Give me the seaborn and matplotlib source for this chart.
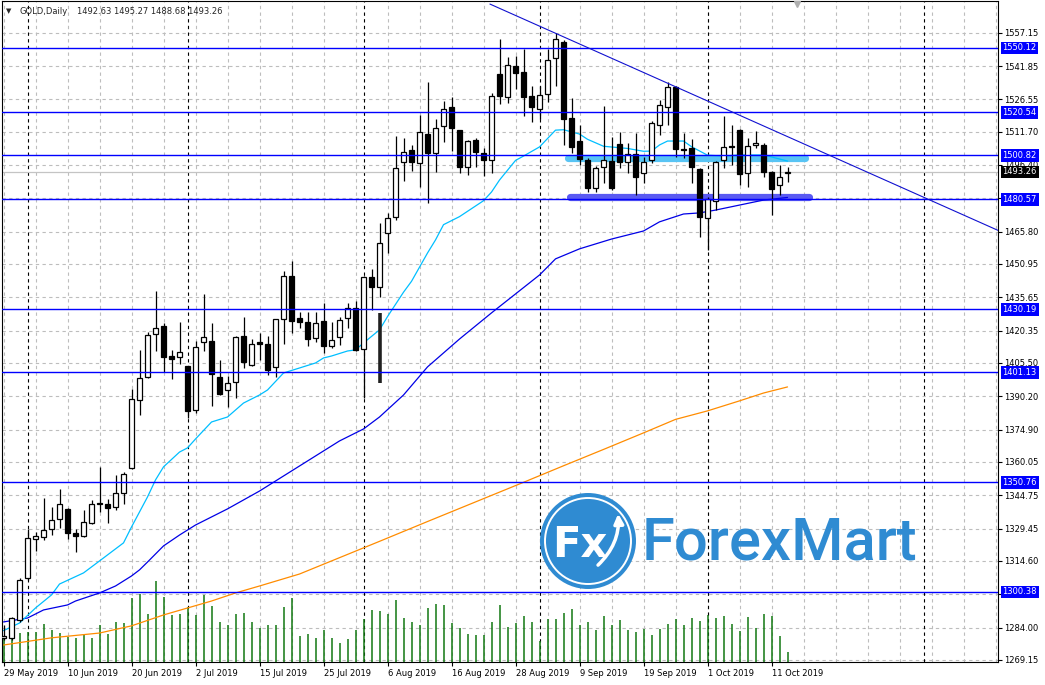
import matplotlib
matplotlib.use("Agg")
import matplotlib.pyplot as plt
import matplotlib.patches as mpatches
import numpy as np
import seaborn as sns

sns.set_style("white")
plt.rcParams["font.family"] = ["DejaVu Sans"]

# GOLD daily bars, 29 May 2019 .. 15 Oct 2019 (one bar per trading day)
opens = [1279.2, 1279.1, 1287.5, 1306.7, 1324.6, 1325.5, 1329.2, 1333.7, 1338.3, 1327.3,
         1326.2, 1332.2, 1341.4, 1340.8, 1339.3, 1345.7, 1357.2, 1388.5, 1398.9, 1418.8,
         1422.5, 1408.7, 1408.1, 1404.1, 1383.9, 1415.3, 1415.6, 1399.1, 1393.0, 1396.6,
         1417.9, 1404.4, 1415.2, 1414.2, 1403.8, 1425.6, 1445.5, 1426.2, 1424.3, 1416.8,
         1424.7, 1413.4, 1417.3, 1426.0, 1430.6, 1411.8, 1444.9, 1440.3, 1465.1, 1472.7,
         1497.7, 1503.3, 1497.2, 1510.5, 1501.8, 1514.3, 1522.9, 1512.5, 1495.3, 1507.9,
         1501.8, 1498.7, 1538.2, 1527.5, 1541.9, 1539.0, 1528.1, 1522.0, 1528.9, 1545.4,
         1552.9, 1517.8, 1507.4, 1498.7, 1485.7, 1495.6, 1498.2, 1505.9, 1497.9, 1501.3,
         1492.6, 1498.7, 1514.8, 1522.9, 1532.1, 1503.9, 1504.1, 1494.4, 1471.9, 1479.9,
         1498.7, 1505.1, 1512.5, 1492.6, 1505.5, 1505.6, 1493.0, 1487.2, 1492.63]
highs = [1285.2, 1289.0, 1306.7, 1329.2, 1328.1, 1343.4, 1339.3, 1347.7, 1338.9, 1329.2,
         1338.0, 1342.6, 1357.6, 1343.1, 1354.1, 1355.3, 1393.4, 1411.5, 1419.9, 1438.5,
         1424.0, 1411.5, 1424.5, 1404.1, 1415.6, 1437.2, 1423.7, 1406.9, 1399.7, 1417.9,
         1426.5, 1416.4, 1419.1, 1417.9, 1425.7, 1447.7, 1452.3, 1429.1, 1429.1, 1428.8,
         1433.2, 1424.2, 1426.8, 1432.9, 1434.1, 1445.5, 1448.5, 1469.6, 1474.2, 1509.7,
         1508.7, 1505.6, 1519.4, 1534.4, 1517.4, 1525.9, 1527.5, 1512.5, 1507.9, 1508.7,
         1504.1, 1529.6, 1554.1, 1546.1, 1546.4, 1549.5, 1532.7, 1532.7, 1549.5, 1556.9,
         1553.8, 1527.0, 1514.8, 1499.6, 1495.9, 1523.5, 1509.4, 1511.7, 1506.4, 1510.9,
         1500.2, 1516.6, 1526.3, 1534.7, 1532.7, 1511.2, 1508.2, 1495.0, 1481.7, 1498.2,
         1518.9, 1514.8, 1512.9, 1508.9, 1512.0, 1506.5, 1493.6, 1496.4, 1495.27]
lows = [1278.3, 1278.3, 1286.7, 1305.9, 1319.3, 1324.2, 1326.5, 1329.6, 1324.6, 1318.9,
        1325.5, 1331.6, 1337.2, 1332.2, 1338.0, 1340.6, 1356.7, 1381.6, 1398.5, 1411.2,
        1401.5, 1398.0, 1405.0, 1380.1, 1382.7, 1411.2, 1385.9, 1390.8, 1385.2, 1389.3,
        1403.1, 1404.1, 1406.9, 1400.0, 1399.2, 1414.1, 1419.4, 1421.4, 1413.4, 1415.3,
        1410.2, 1412.5, 1413.8, 1421.4, 1411.0, 1389.5, 1429.8, 1435.9, 1455.9, 1471.2,
        1489.2, 1493.8, 1486.4, 1479.1, 1493.3, 1507.1, 1503.0, 1492.6, 1491.8, 1495.6,
        1491.5, 1492.9, 1524.4, 1524.7, 1531.2, 1519.0, 1516.3, 1517.4, 1525.5, 1532.7,
        1505.6, 1501.8, 1496.4, 1484.2, 1484.2, 1488.3, 1484.9, 1494.9, 1492.6, 1482.6,
        1488.0, 1497.2, 1510.2, 1514.8, 1500.2, 1499.8, 1488.0, 1463.5, 1457.4, 1475.7,
        1494.9, 1496.4, 1487.2, 1486.2, 1504.1, 1490.8, 1473.5, 1482.6, 1488.68]
closes = [1280.1, 1288.3, 1305.9, 1325.0, 1326.1, 1328.8, 1333.4, 1340.6, 1327.3, 1326.2,
          1332.4, 1340.6, 1340.6, 1339.1, 1345.7, 1354.4, 1388.8, 1398.5, 1418.4, 1421.4,
          1408.4, 1407.5, 1410.6, 1383.6, 1412.7, 1417.6, 1400.3, 1391.1, 1396.3, 1417.6,
          1406.1, 1414.2, 1414.4, 1402.3, 1425.7, 1445.5, 1424.9, 1424.5, 1416.4, 1423.7,
          1413.4, 1415.9, 1425.1, 1430.6, 1411.5, 1445.1, 1440.3, 1460.5, 1471.9, 1495.2,
          1502.5, 1497.7, 1511.4, 1502.1, 1513.3, 1522.3, 1513.3, 1495.3, 1507.4, 1502.2,
          1498.7, 1528.1, 1528.1, 1542.3, 1538.5, 1527.8, 1523.2, 1528.4, 1544.6, 1554.1,
          1517.4, 1504.5, 1499.0, 1485.7, 1494.9, 1498.7, 1486.0, 1497.9, 1501.3, 1491.0,
          1497.9, 1515.8, 1523.9, 1532.1, 1503.6, 1503.4, 1495.6, 1472.7, 1480.7, 1497.9,
          1504.8, 1504.8, 1492.2, 1505.3, 1506.4, 1493.3, 1485.3, 1491.0, 1493.26]
# relative tick volume (no scale shown on the chart)
volumes = [26, 26, 28.7, 30.3, 30, 37.7, 31.7, 29.3, 25, 23.7,
           26.7, 24.3, 36.7, 28, 40, 39, 64, 68, 48, 81,
           65.5, 47, 48, 55, 47, 67.5, 56, 40.3, 37, 48,
           49, 40, 34, 37, 37, 55, 64, 26, 27.7, 23.7,
           31.7, 23.7, 18.7, 22.7, 31.7, 43.3, 51.7, 50.7, 47.7, 61.7,
           44.3, 40.3, 36.7, 54.3, 58.3, 56.7, 38.7, 33.7, 27.7, 26.7,
           26.7, 40.3, 56.7, 34.7, 38.7, 46, 40, 21, 42.7, 42.7,
           48.7, 52.7, 36.7, 40, 31.7, 46, 36.7, 41.7, 31.7, 30,
           32.7, 26.7, 32.7, 38, 42.7, 36.7, 43.7, 40.7, 46.7, 43.7,
           46, 38, 30.7, 44.7, 34, 47.7, 46, 26, 10]

# moving averages (bar index, price)
fast_idx = [0, 2, 4, 6, 7, 10, 12, 15, 16, 18, 19, 20, 22, 23, 24, 26, 28, 30, 32, 33,
            35, 37, 39, 40, 41, 43, 44, 45, 47, 48, 50, 51, 52, 53, 54, 55, 57, 60, 61, 62,
            64, 65, 67, 69, 70, 72, 73, 75, 78, 80, 81, 82, 83, 85, 86, 88, 90, 92, 95, 96, 98]
fast_val = [1282.6, 1286.1, 1293.0, 1299.0, 1304.0, 1309.1, 1314.6, 1322.9, 1330.2, 1344.0,
            1351.8, 1357.8, 1364.6, 1366.5, 1370.6, 1378.4, 1380.7, 1387.1, 1390.8, 1393.1,
            1400.9, 1403.2, 1405.5, 1407.8, 1408.7, 1411.0, 1411.5, 1414.7, 1420.7, 1426.8,
            1438.0, 1443.0, 1449.5, 1456.0, 1462.0, 1469.0, 1472.7, 1480.0, 1484.0, 1489.5,
            1498.5, 1500.5, 1504.7, 1512.4, 1512.6, 1510.6, 1508.2, 1505.0, 1504.0, 1502.7,
            1502.8, 1505.6, 1507.4, 1507.4, 1504.8, 1500.9, 1500.5, 1501.0, 1501.0, 1500.1, 1498.2]
slow_idx = [0, 3, 5, 8, 9, 12, 14, 16, 17, 18, 19, 20, 22, 24, 28, 32, 36, 40, 42, 45,
            47, 50, 53, 57, 61, 64, 67, 69, 72, 76, 80, 82, 85, 87, 89, 92, 95, 98]
slow_val = [1286.6, 1288.4, 1292.1, 1294.4, 1296.2, 1299.9, 1303.1, 1307.7, 1310.5, 1314.1,
            1317.8, 1321.5, 1326.5, 1331.1, 1338.5, 1346.7, 1355.9, 1365.1, 1369.7, 1375.2,
            1380.7, 1390.8, 1403.7, 1416.5, 1428.5, 1437.2, 1445.9, 1453.3, 1457.9, 1462.4,
            1466.1, 1470.3, 1473.9, 1474.4, 1475.7, 1478.0, 1480.3, 1481.5]
long_idx = [0, 6, 12, 16, 20, 23, 26, 29, 32, 37, 42, 47, 53, 59, 65, 70, 75, 80, 84, 88,
            92, 95, 98]
long_val = [1276.0, 1279.3, 1281.5, 1284.8, 1289.8, 1293.0, 1296.2, 1299.9, 1303.1, 1308.6,
            1316.1, 1323.6, 1332.7, 1341.7, 1350.7, 1358.3, 1365.8, 1373.4, 1379.6, 1383.5,
            1388.1, 1391.7, 1394.5]

tick_days = [0, 8, 16, 24, 32, 40, 48, 56, 64, 72, 80, 88, 96]
tick_labels = ["29 May 2019", "10 Jun 2019", "20 Jun 2019", "2 Jul 2019", "15 Jul 2019",
               "25 Jul 2019", "6 Aug 2019", "16 Aug 2019", "28 Aug 2019", "9 Sep 2019",
               "19 Sep 2019", "1 Oct 2019", "11 Oct 2019"]
month_starts = [3, 23, 45, 67, 88, 115]
price_ticks = [1557.15, 1541.85, 1526.55, 1511.70, 1496.40, 1481.10, 1465.80, 1450.95,
               1435.65, 1420.35, 1405.50, 1390.20, 1374.90, 1360.05, 1344.75, 1329.45,
               1314.60, 1299.30, 1284.00, 1269.15]
hidden_ticks = [1481.10, 1299.30]  # covered by the level tags on the chart
levels = [1550.12, 1520.54, 1500.82, 1480.57, 1430.19, 1401.13, 1350.76, 1300.38]
last_price = 1493.26
trend_days = [60.8, 124.3]
trend_prices = [1570.3, 1466.4]
zone_top_days = [70.6, 100.2]
zone_top_price = 1499.8
zone_low_days = [70.8, 100.7]
zone_low_price = 1481.9
odd_bar = (47, 1396.5, 1428.3)

fig = plt.figure(figsize=(10.45, 6.85), dpi=100)
ax = fig.add_axes([2 / 1045, 23 / 685, 996 / 1045, 661 / 685])
ax.set_xlim(-0.19, 124.31)
ax.set_ylim(1268.2, 1571.7)

grid_kw = dict(color="#BDBDBD", ls=(0, (3, 3)), lw=0.8, zorder=0.5)
for d in range(0, 125, 4):
    ax.axvline(d, **grid_kw)
for p in price_ticks:
    ax.axhline(p, **grid_kw)
for m in month_starts:
    ax.axvline(m, color="black", ls=(0, (3, 3)), lw=0.8, zorder=0.6)

idx = np.arange(len(opens))
o = np.array(opens); h = np.array(highs); l = np.array(lows); c = np.array(closes)

# volume along the bottom
ax.vlines(idx, 0, np.array(volumes) / 661, transform=ax.get_xaxis_transform(),
          color="#127812", lw=1.1, zorder=1.2)

# support / resistance zones
ax.plot(zone_top_days, [zone_top_price] * 2, color="#58C4F4", lw=5.2,
        solid_capstyle="round", zorder=1.4)
ax.plot(zone_low_days, [zone_low_price] * 2, color="#5A5AF2", lw=5.2,
        solid_capstyle="round", zorder=1.4)

ax.axhline(last_price, color="#C4C4C4", lw=0.9, zorder=1.3)

sns.lineplot(x=long_idx, y=long_val, ax=ax, color="#FF8C00", lw=0.9, zorder=2)
sns.lineplot(x=slow_idx, y=slow_val, ax=ax, color="#0000E6", lw=0.9, zorder=2)
sns.lineplot(x=fast_idx, y=fast_val, ax=ax, color="#00BFFF", lw=0.9, zorder=2)

# candles
ax.vlines(idx, l, h, color="black", lw=0.9, zorder=3)
ax.vlines(odd_bar[0], odd_bar[1], odd_bar[2], color="#202020", lw=2.6, zorder=3)
up = c >= o
bottom = np.minimum(o, c)
body = np.maximum(np.abs(c - o), 0.4)
ax.bar(idx[up], body[up], bottom=bottom[up], width=0.6, facecolor="white",
       edgecolor="black", linewidth=0.9, zorder=3.5)
ax.bar(idx[~up], body[~up], bottom=bottom[~up], width=0.6, facecolor="black",
       edgecolor="black", linewidth=0.9, zorder=3.5)

for v in levels:
    ax.axhline(v, color="#0000FF", lw=1.0, zorder=4)
ax.plot(trend_days, trend_prices, color="#1010D0", lw=0.8, zorder=4)

# axes / ticks
for s in ax.spines.values():
    s.set_color("black")
    s.set_linewidth(0.8)
ax.yaxis.tick_right()
ax.set_yticks(price_ticks)
ax.set_yticklabels(["" if p in hidden_ticks else f"{p:.2f}" for p in price_ticks])
ax.set_xticks(tick_days)
ax.set_xticklabels(tick_labels, ha="left")
ax.tick_params(axis="y", right=True, left=False, direction="out", length=3,
               width=0.8, pad=1.5, labelsize=6, colors="black")
ax.tick_params(axis="x", bottom=True, direction="out", length=3, width=0.8,
               pad=2, labelsize=6, colors="black")
ax.set_xlabel("")
ax.set_ylabel("")
ax.grid(False)

ytr = ax.get_yaxis_transform()
for v in levels:
    ax.text(1.0045, v, f"{v:.2f}", transform=ytr, fontsize=6, color="white",
            va="center", ha="left", clip_on=False, zorder=10,
            bbox=dict(boxstyle="square,pad=0.22", fc="#0000FF", ec="none"))
ax.text(1.0045, last_price, f"{last_price:.2f}", transform=ytr, fontsize=6,
        color="white", va="center", ha="left", clip_on=False, zorder=10,
        bbox=dict(boxstyle="square,pad=0.22", fc="black", ec="none"))

# header
fig.text(6 / 1045, 1 - 11 / 685, "\u25bc", fontsize=5, va="center", ha="left")
fig.text(19 / 1045, 1 - 11 / 685, "GOLD,Daily", fontsize=6, va="center", ha="left")
fig.text(77 / 1045, 1 - 11 / 685, "1492.63 1495.27 1488.68 1493.26", fontsize=6,
         va="center", ha="left")
ax.plot([99.2], [1570.5], marker="v", color="#B0B0B0", ms=5, clip_on=False, zorder=6)

# watermark logo
tr = fig.dpi_scale_trans
logo_blue = "#2F8BD2"
fig.patches.append(mpatches.Circle((5.88, 1.44), 0.48, transform=tr, fc=logo_blue,
                                   ec="none", zorder=20))
fig.patches.append(mpatches.Circle((5.88, 1.44), 0.43, transform=tr, fc="none",
                                   ec="white", lw=1.4, zorder=21))
fig.text(5.80, 1.40, "Fx", transform=tr, fontsize=30, fontweight="bold",
         color="white", ha="center", va="center", zorder=22)
fig.patches.append(mpatches.FancyArrowPatch((5.96, 1.18), (6.18, 1.74), transform=tr,
                                            arrowstyle="-|>", mutation_scale=14,
                                            color="white", lw=2.5,
                                            connectionstyle="arc3,rad=0.25", zorder=23))
fig.text(6.42, 1.42, "ForexMart", transform=tr, fontsize=43, fontweight="medium",
         family=["Roboto", "DejaVu Sans"], color=logo_blue, ha="left", va="center",
         zorder=22)

fig.savefig("out.png", dpi=100)
